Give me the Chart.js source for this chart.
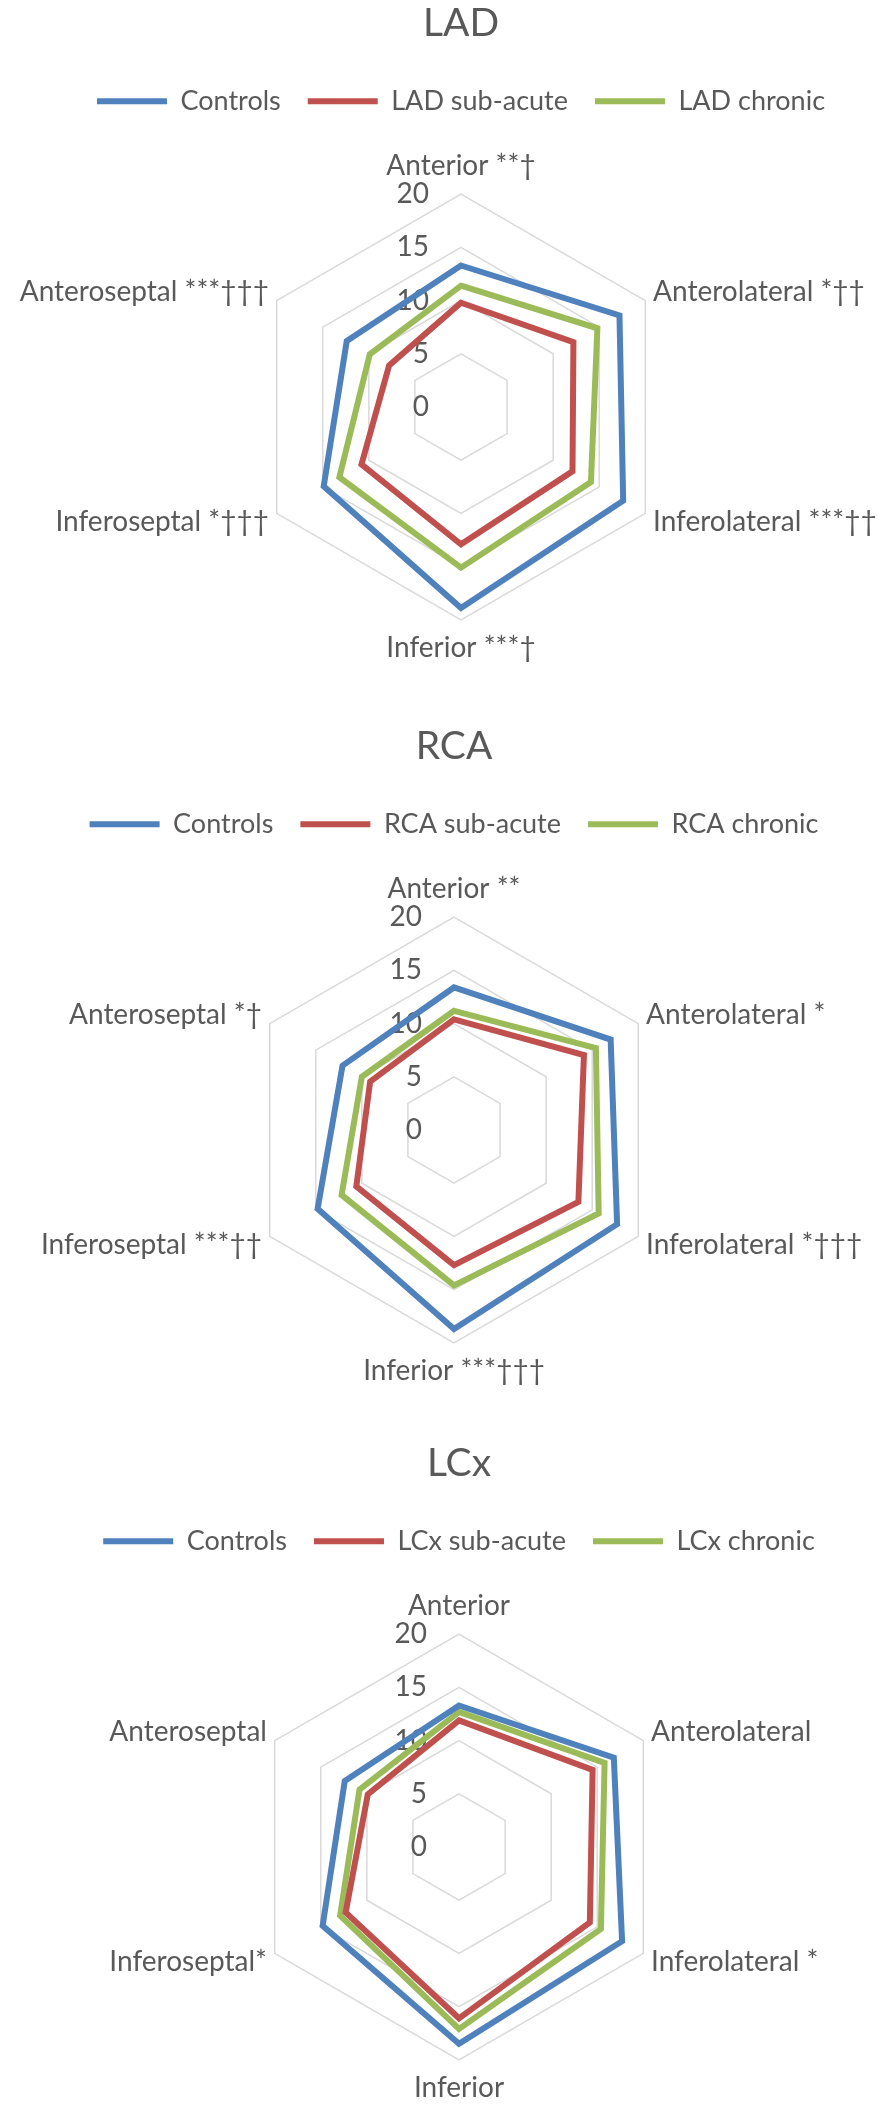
<!DOCTYPE html>
<html>
<head>
<meta charset="utf-8">
<script src="https://cdn.jsdelivr.net/npm/chart.js@4.4.0/dist/chart.umd.min.js"></script>
<style>
html,body{margin:0;padding:0;background:#ffffff;overflow:hidden;}
body{width:894px;height:2107px;position:relative;}
.wrap{position:absolute;width:1100px;height:694px;}
.wrap canvas{display:block;}
</style>
</head>
<body>
<div class="wrap" style="left:-89px;top:0px;"><canvas id="cLAD" width="1100" height="694"></canvas></div>
<div class="wrap" style="left:-96px;top:723px;"><canvas id="cRCA" width="1100" height="694"></canvas></div>
<div class="wrap" style="left:-91px;top:1440px;"><canvas id="cLCx" width="1100" height="694"></canvas></div>
<script>
// ---------- data ----------
const tickValues = [0, 5, 10, 15, 20];
const seriesNames = ['Controls', 'sub-acute', 'chronic'];
const seriesColors = ['#4F81BD', '#C0504D', '#9BBB59'];

const ladTitle = 'LAD';
const ladLabels = ['Anterior **\u2020', 'Anterolateral *\u2020\u2020', 'Inferolateral ***\u2020\u2020', 'Inferior ***\u2020', 'Inferoseptal *\u2020\u2020\u2020', 'Anteroseptal ***\u2020\u2020\u2020'];
const ladControls = [13.3, 17.2, 17.6, 18.9, 14.9, 12.4];
const ladSubAcute = [9.8, 12.2, 12.1, 12.9, 10.8, 7.8];
const ladChronic  = [11.4, 14.8, 14.1, 15.1, 13.2, 9.9];

const rcaTitle = 'RCA';
const rcaLabels = ['Anterior **', 'Anterolateral *', 'Inferolateral *\u2020\u2020\u2020', 'Inferior ***\u2020\u2020\u2020', 'Inferoseptal ***\u2020\u2020', 'Anteroseptal *\u2020'];
const rcaControls = [13.4, 17.0, 17.7, 18.7, 14.8, 12.1];
const rcaSubAcute = [10.4, 14.1, 13.5, 12.7, 10.6, 9.1];
const rcaChronic  = [11.2, 15.4, 15.7, 14.6, 12.2, 10.0];

const lcxTitle = 'LCx';
const lcxLabels = ['Anterior', 'Anterolateral', 'Inferolateral *', 'Inferior', 'Inferoseptal*', 'Anteroseptal'];
const lcxControls = [13.3, 16.8, 17.7, 18.5, 14.8, 12.4];
const lcxSubAcute = [11.9, 14.5, 14.2, 16.1, 12.3, 9.9];
const lcxChronic  = [12.7, 15.8, 15.4, 17.1, 12.9, 10.8];

// ---------- rendering ----------
Chart.defaults.font.family = 'Lato';
const TEXT = '#595959';

const tickLabelPlugin = {
  id: 'tickLabelsLeft',
  beforeDatasetsDraw(chart) {
    const s = chart.scales.r;
    const ctx = chart.ctx;
    ctx.save();
    ctx.font = '28px Lato';
    ctx.fillStyle = TEXT;
    ctx.textAlign = 'right';
    ctx.textBaseline = 'middle';
    s.ticks.forEach(t => {
      const d = s.getDistanceFromCenterForValue(t.value);
      ctx.fillText(String(t.value), s.xCenter - 32, s.yCenter - d);
    });
    ctx.restore();
  }
};

function makeChart(id, title, labels, controls, sub, chronic) {
  const values = [controls, sub, chronic];
  const datasets = values.map((v, i) => ({
    label: i === 0 ? seriesNames[0] : title + ' ' + seriesNames[i],
    data: v,
    borderColor: seriesColors[i],
    backgroundColor: seriesColors[i],
    borderWidth: 6,
    borderCapStyle: 'round',
    borderJoinStyle: 'miter',
    pointRadius: 0,
    pointHoverRadius: 0,
    fill: false,
    tension: 0
  }));
  new Chart(document.getElementById(id), {
    type: 'radar',
    data: { labels: labels, datasets: datasets },
    plugins: [tickLabelPlugin],
    options: {
      responsive: false,
      animation: false,
      layout: { padding: { top: 0, left: 0, right: 0, bottom: 40 } },
      plugins: {
        title: {
          display: true, text: title, color: TEXT,
          font: { family: 'Lato', size: 39, weight: 'normal', lineHeight: 1.2 },
          padding: { top: 0, bottom: 14 }
        },
        subtitle: {
          display: true, text: '', weight: 10, position: 'top',
          font: { size: 10, lineHeight: 1 },
          padding: { top: 27, bottom: 0 }
        },
        legend: {
          position: 'top',
          labels: {
            usePointStyle: true,
            pointStyle: 'line',
            pointStyleWidth: 70,
            color: TEXT,
            padding: 27,
            font: { family: 'Lato', size: 27 }
          }
        },
        tooltip: { enabled: false }
      },
      scales: {
        r: {
          min: tickValues[0],
          max: tickValues[tickValues.length - 1],
          ticks: { display: false, stepSize: tickValues[1] - tickValues[0] },
          grid: { color: '#D9D9D9', lineWidth: 1.5 },
          angleLines: { display: false },
          pointLabels: {
            color: TEXT,
            font: { family: 'Lato', size: 28, lineHeight: 0.3 },
            padding: (ctx) => (ctx.index % 3 === 0 ? 24 : 9)
          }
        }
      }
    }
  });
}

makeChart('cLAD', ladTitle, ladLabels, ladControls, ladSubAcute, ladChronic);
makeChart('cRCA', rcaTitle, rcaLabels, rcaControls, rcaSubAcute, rcaChronic);
makeChart('cLCx', lcxTitle, lcxLabels, lcxControls, lcxSubAcute, lcxChronic);
</script>
</body>
</html>
